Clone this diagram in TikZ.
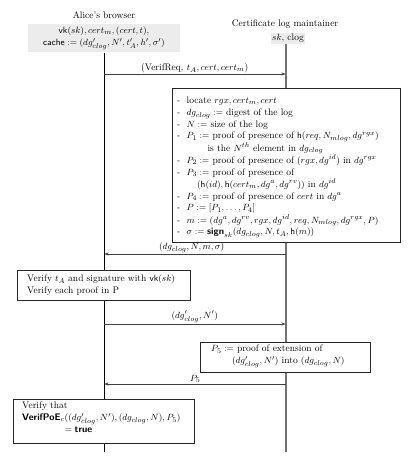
\documentclass[tikz,border=0pt]{standalone}
\usetikzlibrary{arrows.meta,shadows}
\begin{document}
\begin{tikzpicture}[x=1pt,y=-1pt,
  every node/.style={font=\fontsize{9.5}{12}\selectfont},
  title/.style={inner sep=1pt},
  keybox/.style={fill=gray!15,inner sep=1.5pt,align=center},
  procbox/.style={draw=black!85,line width=0.7pt,fill=white,inner sep=0pt,
     drop shadow={shadow xshift=1pt,shadow yshift=-1pt,fill=gray!60,opacity=1}},
  msg/.style={draw=black!75,line width=0.5pt,-{Stealth[length=4pt,width=3pt]}},
  msglabel/.style={inner sep=1pt,anchor=south},
  alifeline/.style={line width=0.6pt,black},
  mlifeline/.style={line width=1.3pt,black!55}]
\useasboundingbox (0,0) rectangle (415,457);

% headers
\node[title] (atitle) at (104,15) {Alice's browser};
\node[keybox,minimum width=152,minimum height=28] (akeys) at (104,38.5)
  {$\mathsf{vk}(sk), cert_m, (cert,t),$\\
   $\mathsf{cache} := (dg'_{clog}, N', t'_A, h', \sigma')$};
\node[title] (mtitle) at (285,24) {Certificate log maintainer};
\node[keybox] (mkeys) at (288,38.5) {$sk$, clog};

\coordinate (aend) at (104,452);
\coordinate (mend) at (286,452);
\draw[alifeline] (akeys.south -| aend) -- (aend);
\draw[mlifeline] (mkeys.south -| mend) -- (mend);

% message 1
\coordinate (a1) at (104,74);
\coordinate (m1) at (285.5,74);
\draw[msg] (a1) -- node[msglabel] {(VerifReq, $t_A, cert, cert_m$)} (m1);

% big box
\node[procbox,minimum width=228,minimum height=154,anchor=north west] (bigbox) at (172,88) {};
\node[anchor=north west,inner sep=0pt,align=left,
      font=\fontsize{9.5}{11.8}\selectfont] (bigtext) at (177,95) {%
\begin{tabular}{@{}l@{\ \ }l@{}}
- & locate $rgx, cert_m, cert$\\
- & $dg_{clog} :=$ digest of the log\\
- & $N :=$ size of the log\\
- & $P_1 :=$ proof of presence of $\mathsf{h}(req, N_{mlog}, dg^{rgx})$\\
  & \hspace{2.2em}is the $N^{th}$ element in $dg_{clog}$\\
- & $P_2 :=$ proof of presence of $(rgx, dg^{id})$ in $dg^{rgx}$\\
- & $P_3 :=$ proof of presence of\\
  & \hspace{1.1em}$(\mathsf{h}(id), \mathsf{h}(cert_m, dg^{a}, dg^{rv}))$ in $dg^{id}$\\
- & $P_4 :=$ proof of presence of $cert$ in $dg^{a}$\\
- & $P := [P_1, \ldots, P_4]$\\
- & $m := (dg^{a}, dg^{rv}, rgx, dg^{id}, req, N_{mlog}, dg^{rgx}, P)$\\
- & $\sigma := \textsf{\textbf{sign}}_{sk}(dg_{clog}, N, t_A, \mathsf{h}(m))$
\end{tabular}};

% message 2
\coordinate (m2) at (286,254);
\coordinate (a2) at (104.5,254);
\draw[msg] (m2) -- node[msglabel,pos=0.52] {$(dg_{clog}, N, m, \sigma)$} (a2);

% left box 1
\node[procbox,minimum width=173,minimum height=30,anchor=north west] (vbox) at (17,270) {};
\node[anchor=west,inner sep=0pt,align=left] (vtext) at (27,285)
  {Verify $t_A$ and signature with $\mathsf{vk}(sk)$\\ Verify each proof in P};

% message 3
\coordinate (a3) at (104,324);
\coordinate (m3) at (285.5,324);
\draw[msg] (a3) -- node[msglabel] {$(dg'_{clog}, N')$} (m3);

% P5 box
\node[procbox,minimum width=170,minimum height=30,anchor=north west] (pbox) at (200,342) {};
\node[anchor=north west,inner sep=0pt,align=left] (ptext) at (211,345)
  {$P_5 :=$ proof of extension of\\
   \hspace{2.2em}$(dg'_{clog}, N')$ into $(dg_{clog}, N)$};

% message 4
\coordinate (m4) at (286,384);
\coordinate (a4) at (104.5,384);
\draw[msg] (m4) -- node[msglabel] {$P_5$} (a4);

% final box
\node[procbox,minimum width=181,minimum height=44,anchor=north west] (fbox) at (13,399) {};
\node[anchor=north west,inner sep=0pt,align=left] (ftext) at (22,402)
  {Verify that\\
   $\textsf{\textbf{VerifPoE}}_c((dg'_{clog}, N'), (dg_{clog}, N), P_5)$\\
   \hspace{4.5em}$= \textsf{\textbf{true}}$};
\end{tikzpicture}
\end{document}
